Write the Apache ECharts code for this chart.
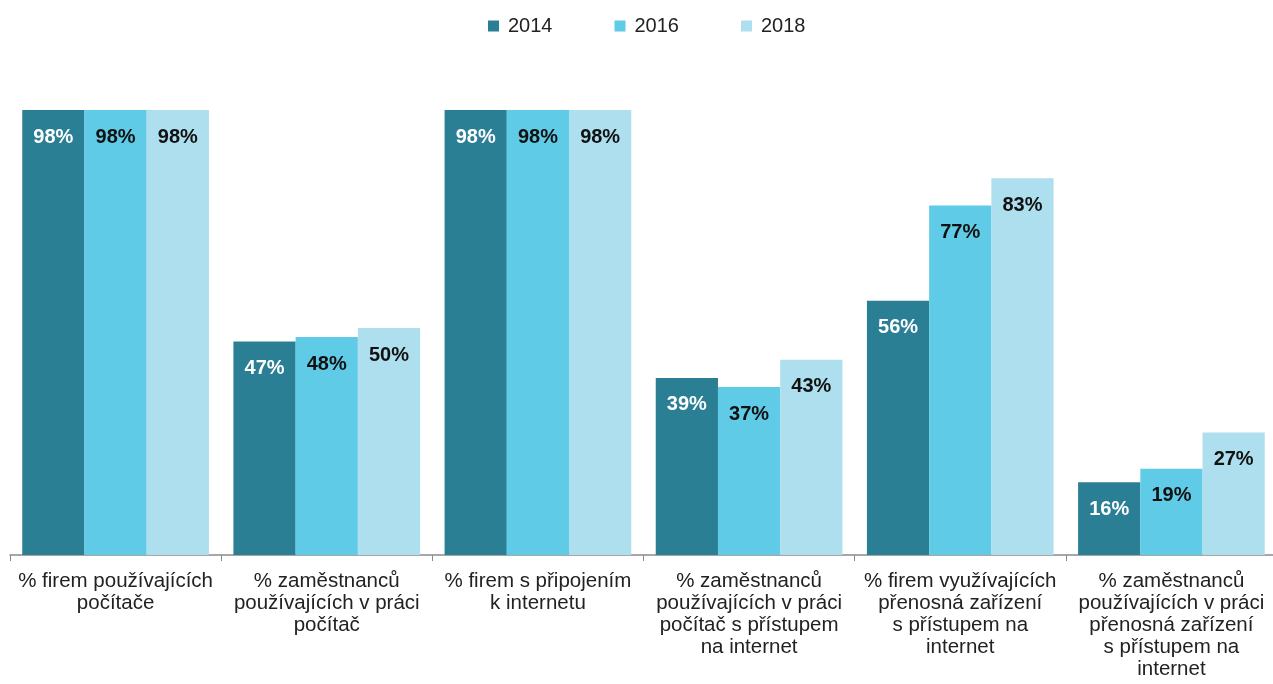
<!DOCTYPE html>
<html>
<head>
<meta charset="utf-8">
<script src="https://cdn.jsdelivr.net/npm/echarts@6/dist/echarts.min.js"></script>
<style>
  html, body { margin: 0; padding: 0; background: #fff; }
  #chart { width: 1273px; height: 684px; }
</style>
</head>
<body>
<div id="chart"></div>
<script>
var categories = [
    '% firem používajících\npočítače',
    '% zaměstnanců\npoužívajících v práci\npočítač',
    '% firem s připojením\nk internetu',
    '% zaměstnanců\npoužívajících v práci\npočítač s přístupem\nna internet',
    '% firem využívajících\npřenosná zařízení\ns přístupem na\ninternet',
    '% zaměstnanců\npoužívajících v práci\npřenosná zařízení\ns přístupem na\ninternet'
];
var years = ['2014', '2016', '2018'];
var values2014 = [98, 47, 98, 39, 56, 16];
var values2016 = [98, 48, 98, 37, 77, 19];
var values2018 = [98, 50, 98, 43, 83, 27];
var colors = ['#2a7f94', '#5fcbe6', '#addfee'];
var labelColors = ['#ffffff', '#111111', '#111111'];

var chart = echarts.init(document.getElementById('chart'));
var seriesData = [values2014, values2016, values2018];

chart.setOption({
    textStyle: { fontFamily: 'Liberation Sans' },
    color: colors,
    legend: {
        top: 16,
        left: 488,
        padding: 0,
        itemWidth: 11,
        itemHeight: 11,
        itemGap: 62,
        icon: 'rect',
        textStyle: { fontSize: 20, color: '#222', fontFamily: 'Liberation Sans', padding: [0, 0, 0, 4] },
        data: years
    },
    grid: { left: 10, width: 1267, top: 101, bottom: 129, outerBoundsMode: 'none' },
    xAxis: {
        type: 'category',
        data: categories,
        axisLine: { lineStyle: { color: '#8a8a8a', width: 1.5 } },
        axisTick: { show: true, length: 6, lineStyle: { color: '#8a8a8a' } },
        axisLabel: {
            interval: 0,
            margin: 15,
            fontSize: 20.5,
            lineHeight: 22,
            color: '#222',
            align: 'center'
        }
    },
    yAxis: {
        type: 'value',
        min: 0,
        max: 100,
        show: false
    },
    series: years.map(function (y, i) {
        return {
            name: y,
            type: 'bar',
            data: seriesData[i],
            barGap: 0,
            barCategoryGap: '11.6%',
            itemStyle: { color: colors[i] },
            label: {
                show: true,
                position: 'insideTop',
                distance: 17,
                formatter: '{c}%',
                fontSize: 20,
                fontWeight: 'bold',
                color: labelColors[i]
            }
        };
    })
});
</script>
</body>
</html>
